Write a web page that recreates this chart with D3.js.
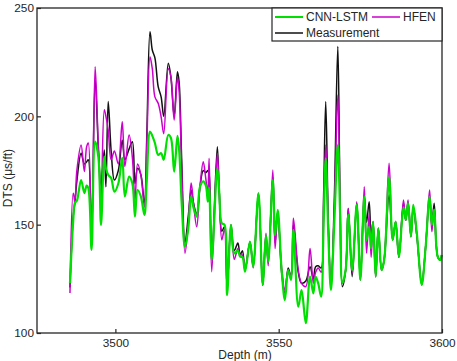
<!DOCTYPE html>
<html><head><meta charset="utf-8">
<script src="https://cdn.jsdelivr.net/npm/d3@7"></script>
<style>body{margin:0;background:#fff}svg{display:block;font-family:Arial,"Liberation Sans",sans-serif}</style>
</head><body><svg id="c" width="457" height="361"></svg>
<script>
const depth = [3486.1,3487.1,3487.6,3488.2,3489.5,3490.5,3491.2,3491.7,3492.7,3493.8,
3494.8,3495.6,3496.6,3497.1,3497.8,3498.7,3499.7,3500.9,3502.1,3502.9,
3504.2,3505.2,3506.0,3506.8,3507.8,3508.9,3509.6,3510.6,3511.3,3512.1,
3513.1,3514.0,3514.8,3516.2,3517.0,3518.0,3519.0,3519.5,3520.3,3521.3,
3522.3,3523.2,3523.9,3524.9,3525.9,3526.9,3527.7,3528.3,3528.7,3529.5,
3531.2,3531.8,3532.6,3533.4,3534.2,3535.4,3536.4,3537.5,3538.2,3538.9,
3539.7,3541.2,3542.2,3543.8,3545.1,3546.1,3546.8,3548.2,3548.9,3549.7,
3550.9,3551.9,3552.9,3553.8,3554.5,3556.0,3557.0,3558.3,3559.6,3560.6,
3561.3,3562.1,3563.0,3563.7,3564.4,3565.2,3566.0,3567.0,3568.1,3568.8,
3569.5,3570.5,3571.3,3572.5,3573.9,3575.0,3576.2,3576.9,3577.7,3578.3,
3578.9,3579.7,3580.5,3581.5,3582.3,3583.8,3584.9,3585.8,3586.8,3588.2,
3588.9,3589.6,3590.5,3591.2,3592.3,3593.8,3595.0,3596.2,3596.9,3597.6,
3598.7,3599.5,3599.9];
const measurement = [121,154,160,170,183,178,179,180,145,216.8,
185,168,184.5,167.5,206.8,184,170.6,175,189,180,
185,188.3,169,176,173,160,190,239,230.6,227,
213.7,209,200,224.5,218,200,220.6,216,180,141.5,
153.7,166,160,155,167.5,175,174,175,173,133.7,
186,165,147,149,121,150,138,141.5,136,138,
129,142,131,164.5,122,145,133,172,141.5,156,
128,118,130,126,150,128,123,124,130.6,125,
130.6,131,130,160,206.8,150,121,160,232.2,160,
121.4,129,157.5,126,160,124.5,163,151,160.6,145,
151.4,126,148.3,129,134,163.7,143,151.4,135,160,
152,160,144.5,158,145,122.2,140,163,150,159.9,
135.2,133.7,136];
const hfen = [118.5,164.5,161,175,186.8,174.5,186,187.7,142,222.9,
185,161,203,200,193.7,180,184,178,197.5,176.8,
191.4,181,161,178,173,158,185,227.5,222,209,
206,199.8,192,222,218.3,198.3,218,212,175,136.8,
150,169.2,160,149,167.5,179,171,164.5,180.6,128.3,
183,165,143,148,121,149,134,139,136,136,
129,142,130,164.5,122,146,131,175.2,139,156,
130,119.8,129,126,153,129,122.9,121.4,139,123,
128,130,128,150,186.8,150,120.5,155,209.8,160,
123,129,157.5,128,160.6,124.5,167.5,136.8,155,135,
151,126,148.3,129,134,178.3,143,151.4,135,161.4,
152,161.4,144.5,158,145,124,140,166,146.8,157,
135.2,133.7,136];
const cnnLstm = [123,152,160,161,170.6,164.6,168,167,138.3,188.3,
181,149.9,181.4,176,173,171.5,165.2,169,180.8,163,
172.2,169,153.7,166,163,154.5,170,193,191,187.7,
182.2,183,180,191.4,190,174.5,191,185,160,139.8,
148,163,158,153.7,167.5,170,168,160.6,167,133.7,
176,165,150.6,150,117.5,149.9,136.8,138,135.2,135,
128.3,142.2,130.6,164.5,122.2,145.2,132.9,170.6,145,156.8,
129,115.2,129,124.5,147.6,112.2,119.8,104.5,126,118.3,
126,122.9,116.8,148,180.6,145,119.8,150,186.8,155,
123,129.1,154.5,129,159.1,124.5,163,142.9,149,139,
151.4,126,148.3,129,133.7,172,142.9,151.4,135.2,158,
152.2,159.9,144.5,159.1,146,122.2,139.8,163,150,157,
135.2,133.7,136];
const xTicks = [3500,3550,3600];
const yTicks = [100,150,200,250];
const seriesNames = ["CNN-LSTM","HFEN","Measurement"];
const colors = {"CNN-LSTM":"#00e000","HFEN":"#cc00cc","Measurement":"#111111"};

const svg = d3.select("#c");
const L=37, R=442, T=8, B=333;
const x = d3.scaleLinear().domain([3476,3600]).range([L,R]);
const y = d3.scaleLinear().domain([100,250]).range([B,T]);

const line = vals => d3.line().x((d,i)=>x(depth[i])).y(d=>y(d)).curve(d3.curveCatmullRom.alpha(0.5))(vals);

svg.append("path").attr("d",line(measurement)).attr("fill","none").attr("stroke",colors["Measurement"]).attr("stroke-width",1.5);
svg.append("path").attr("d",line(hfen)).attr("fill","none").attr("stroke",colors["HFEN"]).attr("stroke-width",1.5);
svg.append("path").attr("d",line(cnnLstm)).attr("fill","none").attr("stroke",colors["CNN-LSTM"]).attr("stroke-width",2.2);

// frame
svg.append("rect").attr("x",L).attr("y",T).attr("width",R-L).attr("height",B-T).attr("fill","none").attr("stroke","#262626").attr("stroke-width",1.3);

const xAxis = svg.append("g").attr("transform",`translate(0,${B})`)
  .call(d3.axisBottom(x).tickValues(xTicks).tickSize(-4).tickPadding(6).tickFormat(d3.format("d")));
const yAxis = svg.append("g").attr("transform",`translate(${L},0)`)
  .call(d3.axisLeft(y).tickValues(yTicks).tickSize(-4).tickPadding(3).tickFormat(d3.format("d")));
[xAxis,yAxis].forEach(a=>{
  a.select(".domain").remove();
  a.selectAll("line").attr("stroke","#262626").attr("stroke-width",1.2);
  a.selectAll("text").attr("fill","#262626").style("font-size","11.8px").style("font-family","Arial, 'Liberation Sans', sans-serif");
});

svg.append("text").attr("x",245).attr("y",359).attr("text-anchor","middle").attr("fill","#262626").style("font-size","12px").text("Depth (m)");
svg.append("text").attr("transform","translate(12,178) rotate(-90)").attr("text-anchor","middle").attr("fill","#262626").style("font-size","12px").text("DTS (μs/ft)");

// legend
const lg = svg.append("g");
lg.append("rect").attr("x",272).attr("y",T).attr("width",R-272).attr("height",33).attr("fill","#fff").attr("stroke","#262626").attr("stroke-width",1.2);
const items = [{n:"CNN-LSTM",x:275,y:17},{n:"HFEN",x:372,y:17},{n:"Measurement",x:275,y:33}];
items.forEach(it=>{
  lg.append("line").attr("x1",it.x).attr("x2",it.x+28).attr("y1",it.y).attr("y2",it.y).attr("stroke",colors[it.n]).attr("stroke-width",it.n==="CNN-LSTM"?2:1.5);
  lg.append("text").attr("x",it.x+31).attr("y",it.y+4).attr("fill","#262626").style("font-size","12px").text(it.n);
});
</script></body></html>
